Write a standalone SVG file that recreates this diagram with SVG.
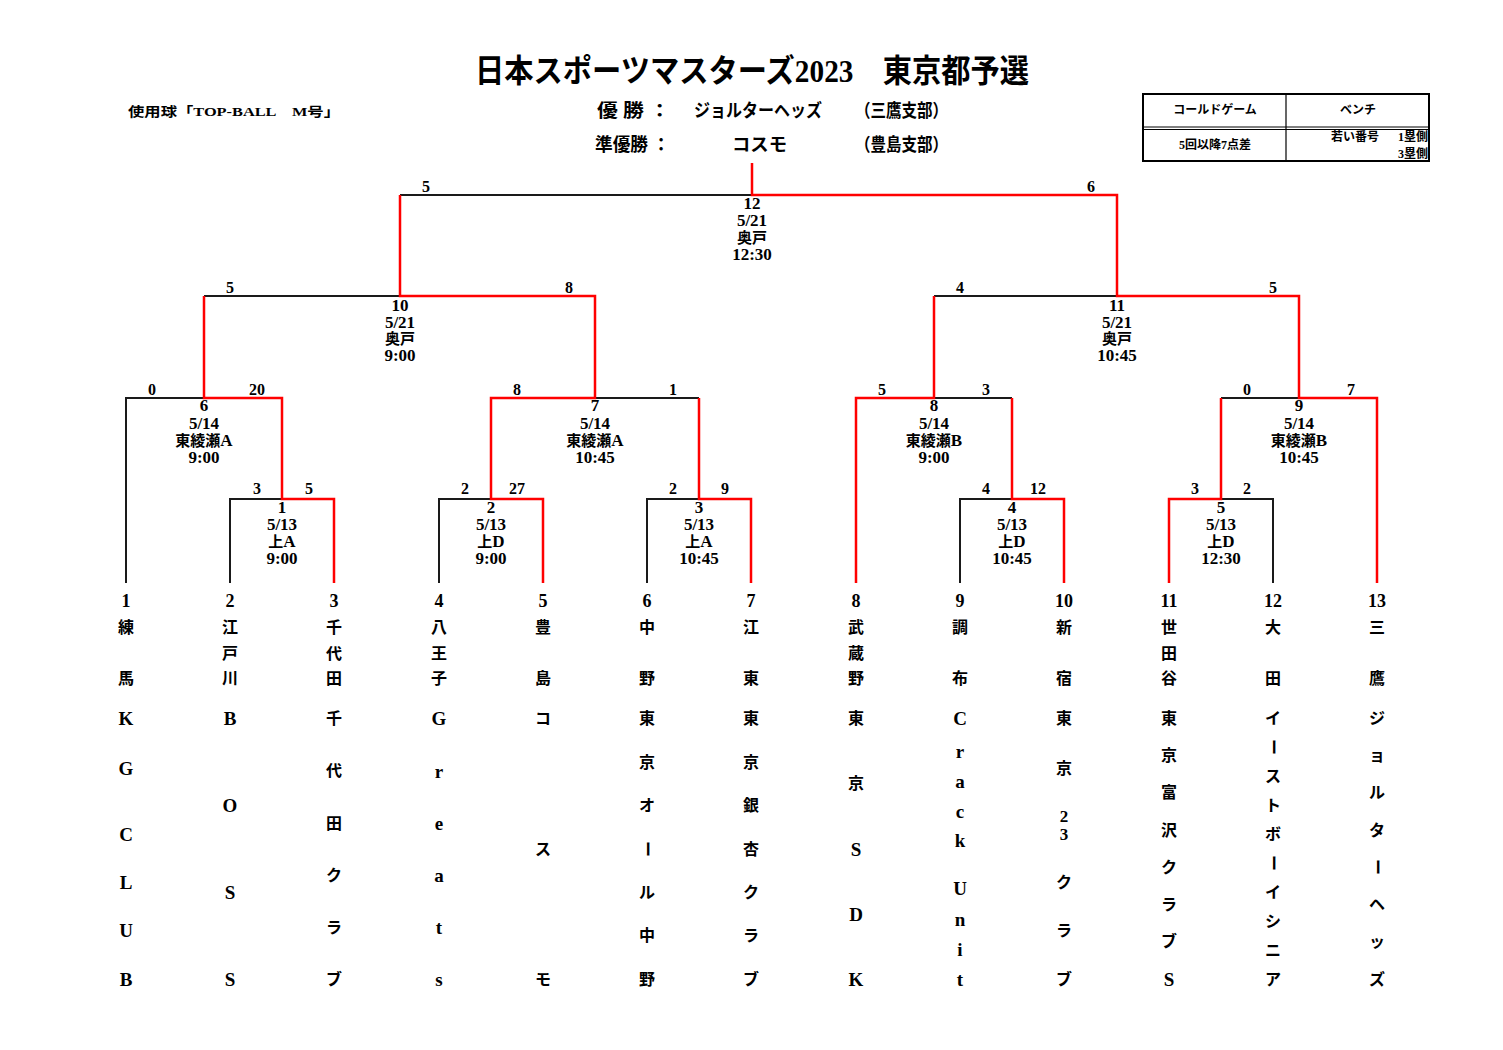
<svg xmlns="http://www.w3.org/2000/svg" width="1503" height="1050" viewBox="0 0 1503 1050">
<style>
text{font-family:"Liberation Serif","Noto Sans CJK JP",serif;font-weight:bold;fill:#000}
.c{text-anchor:middle}
.s{font-size:16px}
.gl{font-size:17px;text-anchor:middle}
.j{font-size:15px}
.num{font-size:18px;text-anchor:middle}
.nm{font-size:16px;text-anchor:middle;dominant-baseline:central}
.l{font-size:19px}
.hd{font-size:18px}
.tb{font-size:12px}
.bk{fill:none;stroke:#1a1a1a;stroke-width:2}
.rd{fill:none;stroke:#ff0000;stroke-width:2.5;stroke-linejoin:miter}
</style>
<rect width="1503" height="1050" fill="#fff"/>

<g id="header">
<text x="752" y="82" class="c" font-size="32" textLength="554" lengthAdjust="spacingAndGlyphs">日本スポーツマスターズ2023　東京都予選</text>
<text x="128" y="116" font-size="13" textLength="212" lengthAdjust="spacingAndGlyphs">使用球「TOP-BALL　M号」</text>
<text x="597" y="117" class="hd" textLength="73" lengthAdjust="spacingAndGlyphs">優 勝 ：</text>
<text x="694" y="117" class="hd" textLength="128" lengthAdjust="spacingAndGlyphs">ジョルターヘッズ</text>
<text x="855" y="117" class="hd" textLength="93" lengthAdjust="spacingAndGlyphs">（三鷹支部）</text>
<text x="595" y="151" class="hd" textLength="75" lengthAdjust="spacingAndGlyphs">準優勝 ：</text>
<text x="732" y="151" class="hd" textLength="55" lengthAdjust="spacingAndGlyphs">コスモ</text>
<text x="855" y="151" class="hd" textLength="93" lengthAdjust="spacingAndGlyphs">（豊島支部）</text>
</g>

<g id="rule-table">
<rect x="1143" y="94" width="286" height="67" fill="none" stroke="#000" stroke-width="2"/>
<line x1="1286" y1="94" x2="1286" y2="161" stroke="#000" stroke-width="1.2"/>
<line x1="1143" y1="127" x2="1429" y2="127" stroke="#000" stroke-width="1"/>
<line x1="1143" y1="129.5" x2="1429" y2="129.5" stroke="#000" stroke-width="1"/>
<text x="1215" y="114" class="tb c">コールドゲーム</text>
<text x="1358" y="114" class="tb c">ベンチ</text>
<text x="1215" y="149" class="tb c">5回以降7点差</text>
<text x="1331" y="141" class="tb">若い番号</text>
<text x="1428" y="141" class="tb" text-anchor="end">1塁側</text>
<text x="1428" y="158" class="tb" text-anchor="end">3塁側</text>
</g>

<g id="connectors">
<path class="bk" d="M400 195H752 M204 296H400 M934 296H1117 M126 583V398H204 M230 583V499H282 M595 398H699 M439 583V499H491 M647 583V499H699 M934 398H1012 M960 583V499H1012 M1221 398H1299 M1273 583V499H1221"/>
<path class="rd" d="M752 163V195H1117V296H1299V398H1377V583"/>
<path class="rd" d="M400 195V296H595V398H491V499H543V583"/>
<path class="rd" d="M204 296V398H282V499H334V583"/>
<path class="rd" d="M699 398V499H751V583"/>
<path class="rd" d="M934 296V398H856V583"/>
<path class="rd" d="M1012 398V499H1064V583"/>
<path class="rd" d="M1221 398V499H1169V583"/>
</g>

<g id="game12">
<text x="426" y="192" class="s c">5</text><text x="1091" y="192" class="s c">6</text>
<text x="752" y="209" class="gl">12</text><text x="752" y="226" class="gl">5/21</text><text x="752" y="243" class="gl"><tspan class="j">奥戸</tspan></text><text x="752" y="260" class="gl">12:30</text>
</g>
<g id="game10">
<text x="230" y="293" class="s c">5</text><text x="569" y="293" class="s c">8</text>
<text x="400" y="311" class="gl">10</text><text x="400" y="328" class="gl">5/21</text><text x="400" y="344" class="gl"><tspan class="j">奥戸</tspan></text><text x="400" y="361" class="gl">9:00</text>
</g>
<g id="game11">
<text x="960" y="293" class="s c">4</text><text x="1273" y="293" class="s c">5</text>
<text x="1117" y="311" class="gl">11</text><text x="1117" y="328" class="gl">5/21</text><text x="1117" y="344" class="gl"><tspan class="j">奥戸</tspan></text><text x="1117" y="361" class="gl">10:45</text>
</g>
<g id="game6">
<text x="152" y="395" class="s c">0</text><text x="257" y="395" class="s c">20</text>
<text x="204" y="411" class="gl">6</text><text x="204" y="429" class="gl">5/14</text><text x="204" y="446" class="gl"><tspan class="j">東綾瀬</tspan>A</text><text x="204" y="463" class="gl">9:00</text>
</g>
<g id="game7">
<text x="517" y="395" class="s c">8</text><text x="673" y="395" class="s c">1</text>
<text x="595" y="411" class="gl">7</text><text x="595" y="429" class="gl">5/14</text><text x="595" y="446" class="gl"><tspan class="j">東綾瀬</tspan>A</text><text x="595" y="463" class="gl">10:45</text>
</g>
<g id="game8">
<text x="882" y="395" class="s c">5</text><text x="986" y="395" class="s c">3</text>
<text x="934" y="411" class="gl">8</text><text x="934" y="429" class="gl">5/14</text><text x="934" y="446" class="gl"><tspan class="j">東綾瀬</tspan>B</text><text x="934" y="463" class="gl">9:00</text>
</g>
<g id="game9">
<text x="1247" y="395" class="s c">0</text><text x="1351" y="395" class="s c">7</text>
<text x="1299" y="411" class="gl">9</text><text x="1299" y="429" class="gl">5/14</text><text x="1299" y="446" class="gl"><tspan class="j">東綾瀬</tspan>B</text><text x="1299" y="463" class="gl">10:45</text>
</g>
<g id="game1">
<text x="257" y="494" class="s c">3</text><text x="309" y="494" class="s c">5</text>
<text x="282" y="513" class="gl">1</text><text x="282" y="530" class="gl">5/13</text><text x="282" y="547" class="gl"><tspan class="j">上</tspan>A</text><text x="282" y="564" class="gl">9:00</text>
</g>
<g id="game2">
<text x="465" y="494" class="s c">2</text><text x="517" y="494" class="s c">27</text>
<text x="491" y="513" class="gl">2</text><text x="491" y="530" class="gl">5/13</text><text x="491" y="547" class="gl"><tspan class="j">上</tspan>D</text><text x="491" y="564" class="gl">9:00</text>
</g>
<g id="game3">
<text x="673" y="494" class="s c">2</text><text x="725" y="494" class="s c">9</text>
<text x="699" y="513" class="gl">3</text><text x="699" y="530" class="gl">5/13</text><text x="699" y="547" class="gl"><tspan class="j">上</tspan>A</text><text x="699" y="564" class="gl">10:45</text>
</g>
<g id="game4">
<text x="986" y="494" class="s c">4</text><text x="1038" y="494" class="s c">12</text>
<text x="1012" y="513" class="gl">4</text><text x="1012" y="530" class="gl">5/13</text><text x="1012" y="547" class="gl"><tspan class="j">上</tspan>D</text><text x="1012" y="564" class="gl">10:45</text>
</g>
<g id="game5">
<text x="1195" y="494" class="s c">3</text><text x="1247" y="494" class="s c">2</text>
<text x="1221" y="513" class="gl">5</text><text x="1221" y="530" class="gl">5/13</text><text x="1221" y="547" class="gl"><tspan class="j">上</tspan>D</text><text x="1221" y="564" class="gl">12:30</text>
</g>

<g id="team1">
<text x="126" y="607" class="num">1</text>
<text class="nm"><tspan x="126" y="627">練</tspan><tspan x="126" y="678">馬</tspan><tspan class="l" x="126" y="718">K</tspan><tspan class="l" x="126" y="768">G</tspan><tspan class="l" x="126" y="834">C</tspan><tspan class="l" x="126" y="882">L</tspan><tspan class="l" x="126" y="930">U</tspan><tspan class="l" x="126" y="979">B</tspan></text>
</g>
<g id="team2">
<text x="230" y="607" class="num">2</text>
<text class="nm"><tspan x="230" y="627">江</tspan><tspan x="230" y="653">戸</tspan><tspan x="230" y="678">川</tspan><tspan class="l" x="230" y="718">B</tspan><tspan class="l" x="230" y="805">O</tspan><tspan class="l" x="230" y="892">S</tspan><tspan class="l" x="230" y="979">S</tspan></text>
</g>
<g id="team3">
<text x="334" y="607" class="num">3</text>
<text class="nm"><tspan x="334" y="627">千</tspan><tspan x="334" y="653">代</tspan><tspan x="334" y="678">田</tspan><tspan x="334" y="718">千</tspan><tspan x="334" y="770">代</tspan><tspan x="334" y="823">田</tspan><tspan x="334" y="875">ク</tspan><tspan x="334" y="927">ラ</tspan><tspan x="334" y="979">ブ</tspan></text>
</g>
<g id="team4">
<text x="439" y="607" class="num">4</text>
<text class="nm"><tspan x="439" y="627">八</tspan><tspan x="439" y="653">王</tspan><tspan x="439" y="678">子</tspan><tspan class="l" x="439" y="718">G</tspan><tspan class="l" x="439" y="771">r</tspan><tspan class="l" x="439" y="823">e</tspan><tspan class="l" x="439" y="875">a</tspan><tspan class="l" x="439" y="927">t</tspan><tspan class="l" x="439" y="979">s</tspan></text>
</g>
<g id="team5">
<text x="543" y="607" class="num">5</text>
<text class="nm"><tspan x="543" y="627">豊</tspan><tspan x="543" y="678">島</tspan><tspan x="543" y="718">コ</tspan><tspan x="543" y="849">ス</tspan><tspan x="543" y="979">モ</tspan></text>
</g>
<g id="team6">
<text x="647" y="607" class="num">6</text>
<text class="nm"><tspan x="647" y="627">中</tspan><tspan x="647" y="678">野</tspan><tspan x="647" y="718">東</tspan><tspan x="647" y="762">京</tspan><tspan x="647" y="805">オ</tspan><tspan x="647" y="892">ル</tspan><tspan x="647" y="935">中</tspan><tspan x="647" y="979">野</tspan></text>
<text class="nm" x="647" y="849" transform="rotate(90 647 849)">ー</text>
</g>
<g id="team7">
<text x="751" y="607" class="num">7</text>
<text class="nm"><tspan x="751" y="627">江</tspan><tspan x="751" y="678">東</tspan><tspan x="751" y="718">東</tspan><tspan x="751" y="762">京</tspan><tspan x="751" y="805">銀</tspan><tspan x="751" y="849">杏</tspan><tspan x="751" y="892">ク</tspan><tspan x="751" y="935">ラ</tspan><tspan x="751" y="979">ブ</tspan></text>
</g>
<g id="team8">
<text x="856" y="607" class="num">8</text>
<text class="nm"><tspan x="856" y="627">武</tspan><tspan x="856" y="653">蔵</tspan><tspan x="856" y="678">野</tspan><tspan x="856" y="718">東</tspan><tspan x="856" y="783">京</tspan><tspan class="l" x="856" y="849">S</tspan><tspan class="l" x="856" y="914">D</tspan><tspan class="l" x="856" y="979">K</tspan></text>
</g>
<g id="team9">
<text x="960" y="607" class="num">9</text>
<text class="nm"><tspan x="960" y="627">調</tspan><tspan x="960" y="678">布</tspan><tspan class="l" x="960" y="718">C</tspan><tspan class="l" x="960" y="751">r</tspan><tspan class="l" x="960" y="781">a</tspan><tspan class="l" x="960" y="811">c</tspan><tspan class="l" x="960" y="840">k</tspan><tspan class="l" x="960" y="888">U</tspan><tspan class="l" x="960" y="919">n</tspan><tspan class="l" x="960" y="949">i</tspan><tspan class="l" x="960" y="979">t</tspan></text>
</g>
<g id="team10">
<text x="1064" y="607" class="num">10</text>
<text class="nm"><tspan x="1064" y="627">新</tspan><tspan x="1064" y="678">宿</tspan><tspan x="1064" y="718">東</tspan><tspan x="1064" y="768">京</tspan><tspan x="1064" y="816" font-size="17">2</tspan><tspan x="1064" y="834" font-size="17">3</tspan><tspan x="1064" y="882">ク</tspan><tspan x="1064" y="930">ラ</tspan><tspan x="1064" y="979">ブ</tspan></text>
</g>
<g id="team11">
<text x="1169" y="607" class="num">11</text>
<text class="nm"><tspan x="1169" y="627">世</tspan><tspan x="1169" y="653">田</tspan><tspan x="1169" y="678">谷</tspan><tspan x="1169" y="718">東</tspan><tspan x="1169" y="755">京</tspan><tspan x="1169" y="792">富</tspan><tspan x="1169" y="830">沢</tspan><tspan x="1169" y="867">ク</tspan><tspan x="1169" y="904">ラ</tspan><tspan x="1169" y="941">ブ</tspan><tspan class="l" x="1169" y="979">S</tspan></text>
</g>
<g id="team12">
<text x="1273" y="607" class="num">12</text>
<text class="nm"><tspan x="1273" y="627">大</tspan><tspan x="1273" y="678">田</tspan><tspan x="1273" y="718">イ</tspan><tspan x="1273" y="776">ス</tspan><tspan x="1273" y="805">ト</tspan><tspan x="1273" y="834">ボ</tspan><tspan x="1273" y="892">イ</tspan><tspan x="1273" y="921">シ</tspan><tspan x="1273" y="950">ニ</tspan><tspan x="1273" y="979">ア</tspan></text>
<text class="nm" x="1273" y="747" transform="rotate(90 1273 747)">ー</text>
<text class="nm" x="1273" y="863" transform="rotate(90 1273 863)">ー</text>
</g>
<g id="team13">
<text x="1377" y="607" class="num">13</text>
<text class="nm"><tspan x="1377" y="627">三</tspan><tspan x="1377" y="678">鷹</tspan><tspan x="1377" y="718">ジ</tspan><tspan x="1377" y="755">ョ</tspan><tspan x="1377" y="792">ル</tspan><tspan x="1377" y="830">タ</tspan><tspan x="1377" y="904">ヘ</tspan><tspan x="1377" y="941">ッ</tspan><tspan x="1377" y="979">ズ</tspan></text>
<text class="nm" x="1377" y="867" transform="rotate(90 1377 867)">ー</text>
</g>
</svg>
